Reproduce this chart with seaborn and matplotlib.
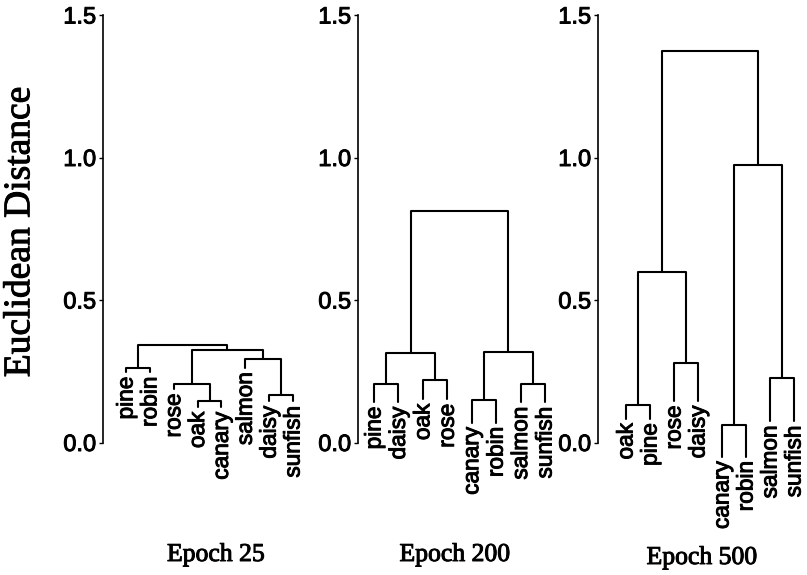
import numpy as np
import pandas as pd
import matplotlib
matplotlib.use("Agg")
import matplotlib.pyplot as plt
import matplotlib.patheffects as pe
import seaborn as sns

# ---------------- data ----------------
epoch_titles = ["Epoch 25", "Epoch 200", "Epoch 500"]

leaves_25 = ["pine", "robin", "rose", "oak", "canary", "salmon", "daisy", "sunfish"]
leaf_end_25 = [0.246, 0.246, 0.187, 0.123, 0.123, 0.262, 0.144, 0.144]
# merges: (child a, child b, height); children 0-7 are leaves, 8+ earlier merges
merges_25 = [(0, 1, 0.263), (3, 4, 0.145), (2, 9, 0.204), (6, 7, 0.165),
             (5, 11, 0.292), (10, 12, 0.325), (8, 13, 0.341)]

leaves_200 = ["pine", "daisy", "oak", "rose", "canary", "robin", "salmon", "sunfish"]
leaf_end_200 = [0.141, 0.141, 0.151, 0.151, 0.07, 0.07, 0.141, 0.141]
merges_200 = [(0, 1, 0.204), (2, 3, 0.219), (8, 9, 0.313), (4, 5, 0.149),
              (6, 7, 0.204), (11, 12, 0.316), (10, 13, 0.814)]

leaves_500 = ["oak", "pine", "rose", "daisy", "canary", "robin", "salmon", "sunfish"]
leaf_end_500 = [0.083, 0.083, 0.145, 0.145, -0.05, -0.05, 0.075, 0.075]
merges_500 = [(0, 1, 0.131), (2, 3, 0.28), (8, 9, 0.60), (4, 5, 0.063),
              (6, 7, 0.225), (11, 12, 0.973), (10, 13, 1.374)]

yticks = [0.0, 0.5, 1.0, 1.5]
ytick_labels = ["0.0", "0.5", "1.0", "1.5"]
ylabel = "Euclidean Distance"

panels = [
    (leaves_25, leaf_end_25, merges_25),
    (leaves_200, leaf_end_200, merges_200),
    (leaves_500, leaf_end_500, merges_500),
]

# ---------------- layout ----------------
sns.set_style("ticks")
plt.rcParams["font.family"] = ["Liberation Sans", "DejaVu Sans"]

W, H = 807, 575
fig = plt.figure(figsize=(W / 100, H / 100), dpi=100)

bold_fx = [pe.withStroke(linewidth=0.7, foreground="black")]

top_px, zero_px = 15.0, 442.5
unit_px = (zero_px - top_px) / 1.5
ylo = -0.25
ax_h_px = (1.5 - ylo) * unit_px
bottom_frac = 1 - (top_px + ax_h_px) / H
height_frac = ax_h_px / H

spine_px = [103, 358, 598]
leaf1_px = [126, 374, 626]
spacing_px = [23.86, 24.43, 24.0]
axw_px = 205

title_x_px = [216, 455, 702]
title_base_px = [561, 561, 564]

for i, (leaves, leaf_end, merges) in enumerate(panels):
    sp = spacing_px[i]
    x0 = 1 - (leaf1_px[i] - spine_px[i]) / sp
    ax = fig.add_axes([spine_px[i] / W, bottom_frac, axw_px / W, height_frac])
    ax.set_facecolor("none")

    n = len(leaves)
    xs = list(np.arange(1, n + 1, dtype=float))
    ys = list(leaf_end)
    rows = []
    for k, (a, b, h) in enumerate(merges):
        path = [(xs[a], ys[a]), (xs[a], h), (xs[b], h), (xs[b], ys[b])]
        for j, (px, py) in enumerate(path):
            rows.append({"seg": k, "order": j, "x": px, "y": py})
        xs.append((xs[a] + xs[b]) / 2)
        ys.append(h)
    df = pd.DataFrame(rows)
    sns.lineplot(data=df, x="x", y="y", units="seg", estimator=None, sort=False,
                 color="black", linewidth=1.5, ax=ax, legend=False)

    for j, name in enumerate(leaves):
        ax.annotate(name, xy=(j + 1, leaf_end[j]), xytext=(0, -3),
                    textcoords="offset points", rotation=90, ha="center",
                    va="top", fontsize=16.3, color="black",
                    path_effects=bold_fx)

    ax.set_xlim(x0, x0 + axw_px / sp)
    ax.set_ylim(ylo, 1.5)
    ax.set_xlabel("")
    ax.set_ylabel("")
    ax.set_xticks([])
    ax.set_yticks(yticks)
    ax.set_yticklabels(ytick_labels)
    ax.tick_params(axis="y", direction="out", length=3, width=1, pad=2,
                   labelsize=17, colors="black")
    for t in ax.get_yticklabels():
        t.set_path_effects(bold_fx)
    sns.despine(ax=ax, bottom=True)
    ax.spines["left"].set_bounds(0, 1.5)
    ax.spines["left"].set_linewidth(1.2)
    ax.spines["left"].set_color("black")

    fig.text(title_x_px[i] / W, 1 - title_base_px[i] / H, epoch_titles[i],
             ha="center", va="baseline", family=["Liberation Serif"],
             fontsize=18.5, color="black", path_effects=bold_fx)

fig.text(20 / W, 1 - 232 / H, ylabel, rotation=90, ha="center", va="center",
         family=["Liberation Serif"], fontsize=27, color="black",
         path_effects=bold_fx)

fig.savefig("out.png", dpi=100)
